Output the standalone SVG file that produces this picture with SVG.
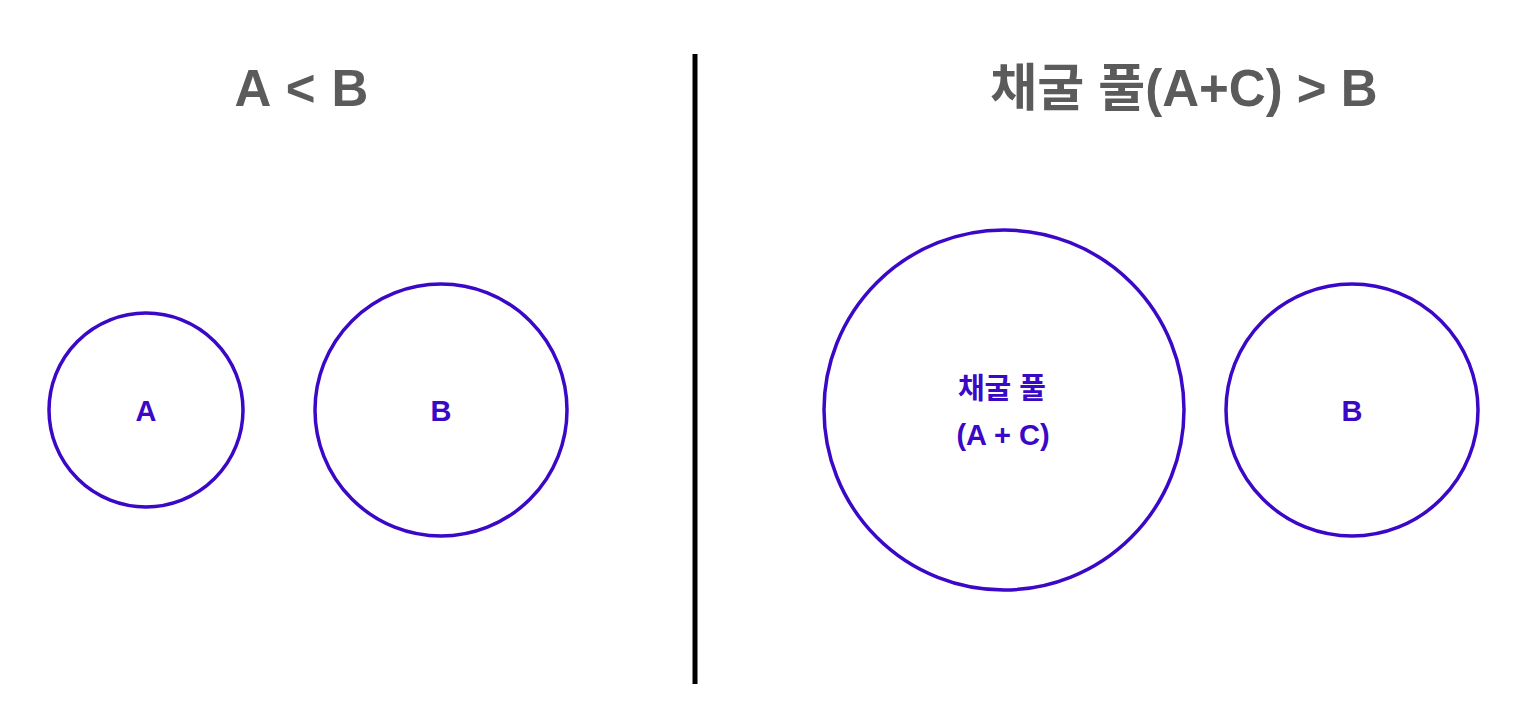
<svg xmlns="http://www.w3.org/2000/svg" width="1524" height="712" viewBox="0 0 1524 712">
<style>
.c{fill:none;stroke:#3a08c6;stroke-width:3.5}
.t{font-family:"Liberation Sans","Noto Sans CJK KR",sans-serif;font-weight:bold;fill:#5b5b5b;font-size:51px;text-anchor:middle}
.l{font-family:"Liberation Sans","Noto Sans CJK KR",sans-serif;font-weight:bold;fill:#3a08c6;font-size:29px;text-anchor:middle}
</style>
<rect width="1524" height="712" fill="#fff"/>
<g id="divider"><line x1="695" y1="54" x2="695" y2="684" stroke="#000" stroke-width="5"/></g>
<g id="title-left"><text class="t" x="302" y="106" letter-spacing="1">A &lt; B</text></g>
<g id="title-right"><text class="t" x="1184" y="106">채굴 풀(A+C) &gt; B</text></g>
<g id="node-a"><circle class="c" cx="146" cy="410" r="97"/><text class="l" x="146" y="421">A</text></g>
<g id="node-b-left"><circle class="c" cx="441" cy="410" r="126"/><text class="l" x="441" y="421">B</text></g>
<g id="node-pool"><circle class="c" cx="1004" cy="410" r="180"/><text class="l" x="1002" y="399">채굴 풀</text><text class="l" x="1003" y="445">(A + C)</text></g>
<g id="node-b-right"><circle class="c" cx="1352" cy="410" r="126"/><text class="l" x="1352" y="421">B</text></g>
<g id="connectors"/>
</svg>
